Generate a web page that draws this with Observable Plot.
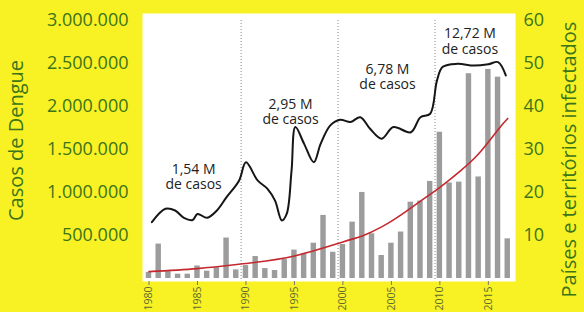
<!DOCTYPE html>
<html><head><meta charset="utf-8">
<script src="https://cdn.jsdelivr.net/npm/d3@7"></script>
<script src="https://cdn.jsdelivr.net/npm/@observablehq/plot@0.6"></script>
<style>
body{margin:0;background:#f8f224;}
#chart{width:584px;height:312px;overflow:hidden}
</style>
</head><body><div id="chart"></div>
<script>
const years = [1980,1981,1982,1983,1984,1985,1986,1987,1988,1989,1990,1991,1992,1993,1994,1995,1996,1997,1998,1999,2000,2001,2002,2003,2004,2005,2006,2007,2008,2009,2010,2011,2012,2013,2014,2015,2016,2017];
const cases = [70000,400000,80000,50000,50000,145000,85000,125000,470000,100000,150000,255000,115000,93000,220000,330000,280000,410000,733000,305000,395000,655000,1000000,520000,267000,410000,540000,887000,900000,1128000,1700000,1110000,1120000,2380000,1180000,2430000,2340000,461000];

const lineYears = [1980.3,1981.7,1982.7,1983.6,1984.5,1985.0,1986.0,1987.0,1988.0,1989.3,1990.0,1991.2,1992.2,1993.0,1993.7,1994.2,1994.7,1995.1,1996.0,1997.0,1997.7,1998.7,1999.7,2000.8,2001.8,2002.8,2004.0,2005.2,2007.0,2008.0,2009.0,2009.7,2010.3,2011.8,2013.5,2015.0,2016.0,2016.8];
const lineCountries = [13.1,16.2,15.8,14.1,13.6,15.0,14.1,15.8,18.9,22.8,27.0,22.8,20.9,18.1,13.5,15.0,25.0,35.2,31.3,27.0,31.3,35.6,36.9,36.4,37.5,34.8,32.5,35.2,34.0,37.5,38.3,46.0,49.2,49.9,49.5,49.8,50.3,47.2];

const trendYears = [1980,1985,1990,1995,2000,2002,2004,2006,2008,2010,2012,2014,2016,2017];
const trendCases = [80000,115000,175000,262000,425000,495000,600000,740000,900000,1060000,1240000,1450000,1730000,1860000];

const noteYears = [1984.6,1994.6,2004.6,2013.1];
const noteCases = [1186000,1940000,2350000,2760000];
const noteLabels = ["1,54 M\nde casos","2,95 M\nde casos","6,78 M\nde casos","12,72 M\nde casos"];

const decadeBreaks = [1989.5,1999.5,2009.5];
const leftTicks = [500000,1000000,1500000,2000000,2500000,3000000];
const rightTicks = [10,20,30,40,50,60];
const xTicks = [1980,1985,1990,1995,2000,2005,2010,2015];

const leftTitle = "Casos de Dengue";
const rightTitle = "Países e territórios infectados";

const bars = years.map((y,i)=>({year:y, cases:cases[i]}));
const line = lineYears.map((y,i)=>({year:y, c:lineCountries[i]}));
const trend = trendYears.map((y,i)=>({year:y, cases:trendCases[i]}));
const notes = noteYears.map((y,i)=>({year:y, cases:noteCases[i], label:noteLabels[i]}));

const ratio = 50000;
const fmt = d3.formatLocale({thousands:".", decimal:",", grouping:[3], currency:["",""]}).format(",");
const green = "#3b7419";

const chart = Plot.plot({
  width: 584, height: 312,
  marginLeft: 142, marginRight: 69, marginTop: 13, marginBottom: 31,
  style: {background: "transparent", fontFamily: "Open Sans"},
  x: {domain: [1979.33, 2017.8]},
  y: {domain: [-35000, 3080000]},
  marks: [
    Plot.frame({fill: "white", stroke: null}),
    Plot.ruleX(decadeBreaks, {stroke: "#888", strokeDasharray: "1,2", strokeWidth: 1, insetTop: 7}),
    Plot.rectY(bars, {x1: d => d.year - 0.28, x2: d => d.year + 0.28, y: "cases", fill: "#9c9c9c"}),
    Plot.line(trend, {x: "year", y: "cases", stroke: "#c4282e", strokeWidth: 1.6, curve: "natural"}),
    Plot.line(line, {x: "year", y: d => d.c * ratio, stroke: "#161616", strokeWidth: 2, curve: "catmull-rom"}),
    Plot.text(notes, {x: "year", y: "cases", text: "label", fontSize: 14, lineHeight: 1.1, fill: "#222"}),
    Plot.axisY(leftTicks, {anchor: "left", tickSize: 0, tickPadding: 14, tickFormat: fmt, fontSize: 18, fill: green, label: null}),
    Plot.axisY(rightTicks.map(d => d * ratio), {anchor: "right", tickSize: 0, tickPadding: 8, tickFormat: d => String(d / ratio), fontSize: 18, fill: green, label: null}),
    Plot.axisX(xTicks, {anchor: "bottom", tickSize: 4, tickPadding: 1, tickRotate: -90, tickFormat: d => String(d), fontSize: 10.5, fill: "#5f6a30", stroke: "#777", label: null}),
    Plot.text([leftTitle], {text: d => d, frameAnchor: "left", textAnchor: "middle", rotate: -90, dx: -126, dy: -7, fontSize: 20, fill: green}),
    Plot.text([rightTitle], {text: d => d, frameAnchor: "bottom-right", rotate: -90, textAnchor: "start", dx: 60, dy: 16, fontSize: 20, fill: green})
  ]
});
document.getElementById("chart").appendChild(chart);
</script>
</body></html>
